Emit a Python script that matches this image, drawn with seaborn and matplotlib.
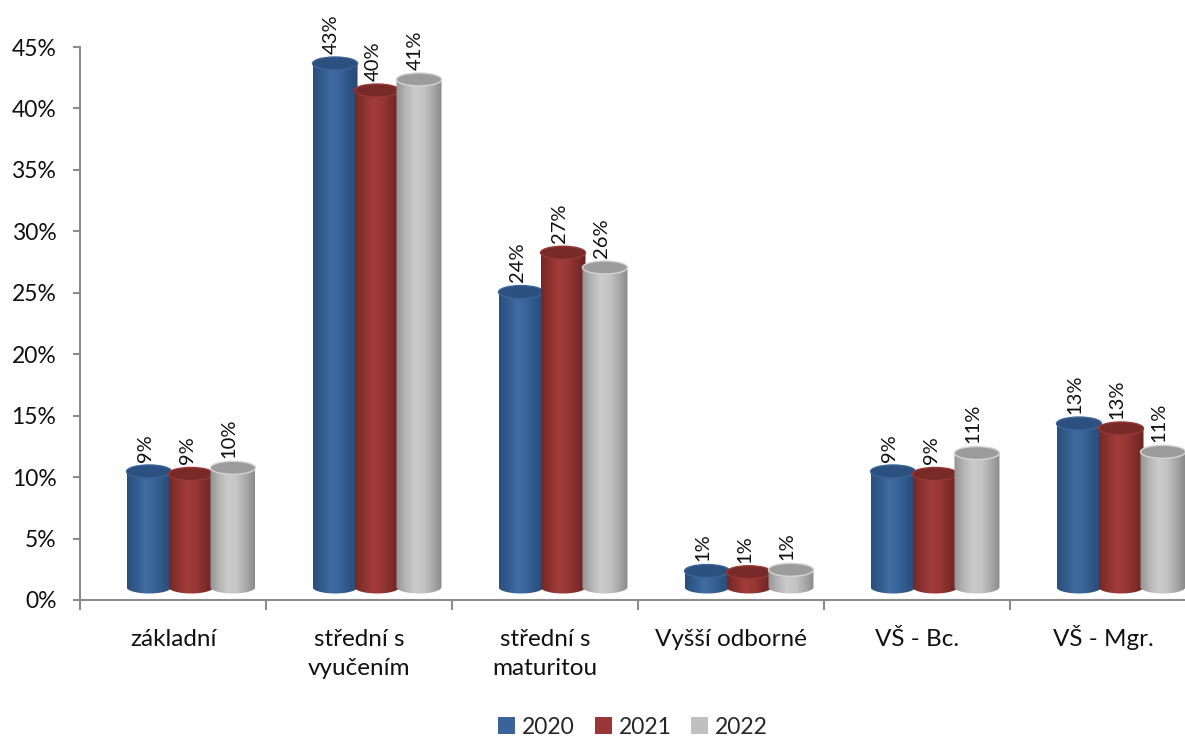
import numpy as np
import pandas as pd
import matplotlib
matplotlib.use("Agg")
import matplotlib.pyplot as plt
import seaborn as sns
from matplotlib.colors import LinearSegmentedColormap
from matplotlib.patches import Ellipse, Patch, PathPatch
from matplotlib.path import Path
from matplotlib.ticker import PercentFormatter
from matplotlib.transforms import Affine2D

categories = ["základní", "střední s\nvyučením", "střední s\nmaturitou", "Vyšší odborné", "VŠ - Bc.", "VŠ - Mgr."]
years = ["2020", "2021", "2022"]
values_2020 = [9.4, 42.6, 24.0, 1.3, 9.4, 13.3]
values_2021 = [9.2, 40.4, 27.2, 1.2, 9.2, 12.9]
values_2022 = [9.7, 41.3, 26.0, 1.4, 10.9, 11.0]
labels_2020 = ["9%", "43%", "24%", "1%", "9%", "13%"]
labels_2021 = ["9%", "40%", "27%", "1%", "9%", "13%"]
labels_2022 = ["10%", "41%", "26%", "1%", "11%", "11%"]

colors = ["#3a6499", "#983735", "#c0c0c0"]
# dark edge / light middle of each cylinder
shades = {
    "2020": ["#2b4f7c", "#335b8c", "#3f6ca4", "#39649a", "#2f5583", "#274a75"],
    "2021": ["#742826", "#8b3230", "#a23c3a", "#983735", "#802d2b", "#6a2422"],
    "2022": ["#939393", "#b4b4b4", "#cbcbcb", "#c4c4c4", "#aaaaaa", "#8a8a8a"],
}
cap_colors = {"2020": "#2c5180", "2021": "#772a28", "2022": "#9c9c9c"}
rim_colors = {"2020": "#3a6499", "2021": "#983735", "2022": "#d4d4d4"}

df = pd.DataFrame({"cat": categories, "2020": values_2020, "2021": values_2021, "2022": values_2022})
long_df = df.melt(id_vars="cat", var_name="year", value_name="value")

sns.set_style("white")
plt.rcParams["font.family"] = ["Lato", "DejaVu Sans"]

fig = plt.figure(figsize=(11.85, 7.37), dpi=100)
# axis runs a little past the right edge of the picture, like the original
ax = fig.add_axes([80 / 1185, 1 - 600 / 737, 1116 / 1185, 553 / 737])
sns.barplot(data=long_df, x="cat", y="value", hue="year", hue_order=years, palette=colors,
            width=0.677, gap=0, legend=False, ax=ax)

# fake 3D: everything sits up and to the right of the axis
shift = ax.transData + Affine2D().translate(18, 13)

bar_w = 45 / 186
cap_h = 13 / 12.29
all_labels = [labels_2020, labels_2021, labels_2022]

for container, year, labs in zip(ax.containers, years, all_labels):
    cmap = LinearSegmentedColormap.from_list("c" + year, shades[year])
    grad = cmap(np.linspace(0, 1, 128))[np.newaxis, :, :]
    for bar, lab in zip(container, labs):
        cx = bar.get_x() + bar.get_width() / 2
        top = bar.get_height()
        bar.set_visible(False)
        left, right = cx - bar_w / 2, cx + bar_w / 2
        t = np.linspace(0, np.pi, 40)
        low_x = cx + np.cos(t + np.pi) * bar_w / 2
        low_y = np.sin(t + np.pi) * cap_h / 2
        verts = list(zip(low_x, low_y)) + [(right, top), (left, top), (left, 0)]
        body = PathPatch(Path(verts), transform=shift, facecolor="none", edgecolor="none", zorder=3)
        ax.add_patch(body)
        im = ax.imshow(grad, extent=(left, right, -cap_h, top), aspect="auto", zorder=3,
                       transform=shift, interpolation="bilinear")
        im.set_clip_path(body)
        cap = Ellipse((cx, top), bar_w, cap_h, transform=shift, facecolor=cap_colors[year],
                      edgecolor=rim_colors[year], linewidth=1, zorder=3)
        ax.add_patch(cap)
        ax.text(cx - 0.02, top + cap_h / 2 + 0.25, lab, rotation=90, ha="center", va="bottom",
                fontsize=14.5, color="#111111", transform=shift, zorder=5, clip_on=False)

ax.set_xlim(-0.5, 5.5)
ax.set_ylim(0, 45)

sns.despine(ax=ax)
for side in ["left", "bottom"]:
    ax.spines[side].set_color("#8c8c8c")
    ax.spines[side].set_linewidth(1.5)

ax.set_xlabel("")
ax.set_ylabel("")
ax.set_yticks(np.arange(0, 46, 5))
ax.yaxis.set_major_formatter(PercentFormatter(decimals=0))
ax.tick_params(axis="y", labelsize=16.5, length=5, width=1.5, color="#8c8c8c", left=True, pad=12, labelcolor="#111111")

# ticks sit between the groups, labels in the middle
# one-line labels get an empty second line so every first line stays at the same height
ax.set_xticks(np.arange(-0.5, 6, 1))
ax.set_xticklabels([])
ax.set_xticks(np.arange(6), labels=[c if "\n" in c else c + "\n " for c in categories], minor=True)
ax.tick_params(axis="x", which="major", length=7, width=1.5, color="#8c8c8c", bottom=True)
ax.tick_params(axis="x", which="minor", length=0, labelsize=17.5, pad=54, labelcolor="#111111")
for lbl in ax.get_xticklabels(minor=True):
    lbl.set_verticalalignment("baseline")
    lbl.set_linespacing(1.5)

handles = [Patch(facecolor=c, edgecolor="none", label=y) for c, y in zip(colors, years)]
fig.legend(handles=handles, loc="center", bbox_to_anchor=(633 / 1185, 1 - 727 / 737), ncol=3, frameon=False,
           fontsize=16.5, handlelength=0.74, handleheight=0.74, handletextpad=0.3, columnspacing=0.87)

fig.savefig("out.png", dpi=100)
